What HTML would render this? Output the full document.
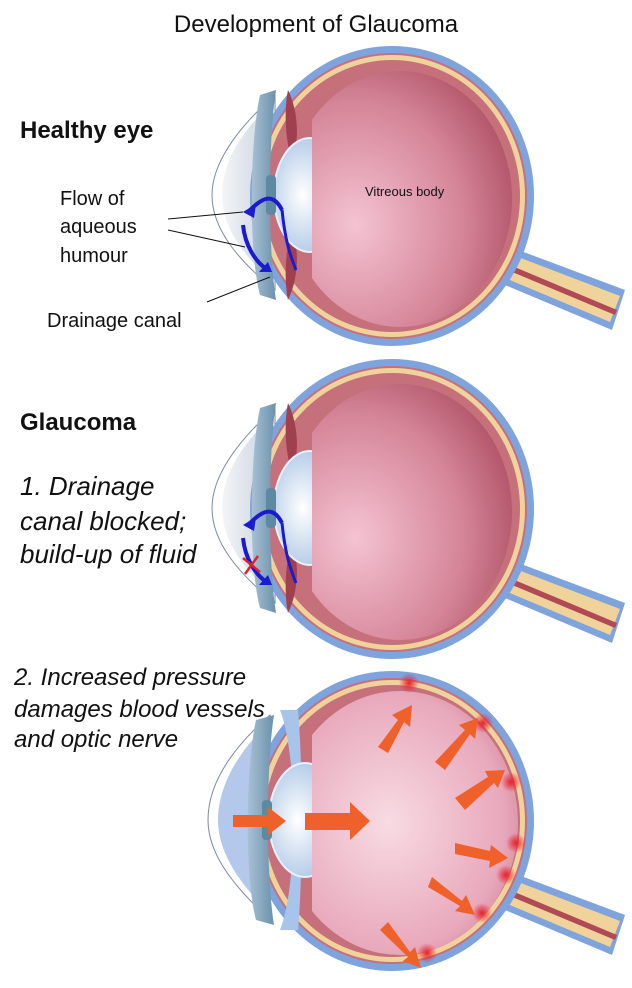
<!DOCTYPE html>
<html><head><meta charset="utf-8"><style>
html,body{margin:0;padding:0;background:#fff;}
svg{display:block;}
text{font-family:"Liberation Sans",sans-serif;fill:#111;}
</style></head><body>
<svg width="632" height="988" viewBox="0 0 632 988" xmlns="http://www.w3.org/2000/svg">
<defs>
<radialGradient id="vit" cx="0.3" cy="0.6" r="0.8">
<stop offset="0" stop-color="#f4c3d2"/><stop offset="0.6" stop-color="#d58598"/><stop offset="1" stop-color="#a9495e"/>
</radialGradient>
<radialGradient id="vit3" cx="0.45" cy="0.5" r="0.7">
<stop offset="0" stop-color="#f8dbe4"/><stop offset="0.7" stop-color="#e8a8bb"/><stop offset="1" stop-color="#c56f86"/>
</radialGradient>
<radialGradient id="lens" cx="0.4" cy="0.5" r="0.6">
<stop offset="0" stop-color="#ffffff"/><stop offset="1" stop-color="#a9c4e4"/>
</radialGradient>
<linearGradient id="cor" x1="0" x2="1">
<stop offset="0" stop-color="#f4f5f8"/><stop offset="1" stop-color="#c9d3e0"/>
</linearGradient>
<linearGradient id="iris" x1="0" x2="1">
<stop offset="0" stop-color="#a8c0d4"/><stop offset="1" stop-color="#6a92ac"/>
</linearGradient>
<radialGradient id="spot"><stop offset="0" stop-color="#e8202a"/><stop offset="1" stop-color="#e8202a" stop-opacity="0"/></radialGradient>
<clipPath id="vclip"><rect x="312" y="0" width="300" height="400" rx="40"/></clipPath>
<g id="globe">
  <path d="M505 245 L625 290 L612 330 L505 285 Z" fill="#7fa3dc"/>
  <path d="M505 252 L620 296 L610 322 L505 278 Z" fill="#f0d39a"/>
  <path d="M505 263 L617 310 L615 315 L505 269 Z" fill="#b04a55"/>
  <ellipse cx="392" cy="196" rx="142" ry="150" fill="#7fa3dc"/>
  <ellipse cx="392" cy="196" rx="135" ry="143" fill="#c6707c"/>
  <ellipse cx="392" cy="196" rx="133" ry="141" fill="#f0d39a"/>
  <ellipse cx="392" cy="196" rx="128" ry="136" fill="#c6707c"/>
</g>
<g id="eye">
  <path d="M275 95 C235 130 212 165 212 195 C212 230 240 262 275 290 Z" fill="#fff" stroke="#7a8aa0" stroke-width="1"/>
  <path d="M270 105 C238 135 222 165 222 195 C222 228 244 255 270 280 Z" fill="url(#cor)"/>
  <use href="#globe"/>
  <path d="M260 95 C250 140 248 250 260 295 L276 300 C268 250 268 140 276 90 Z" fill="url(#iris)"/>
  <path d="M288 90 C298 110 300 140 292 160 C285 140 284 110 288 90 Z M288 300 C298 280 300 250 292 230 C285 250 284 280 288 300 Z" fill="#a0404e"/>
  <ellipse cx="310" cy="195" rx="36" ry="57" fill="url(#lens)" stroke="#e8f0fa" stroke-width="2"/>
  <rect x="266" y="175" width="10" height="40" rx="4" fill="#5d8aa0"/>
  <ellipse cx="400" cy="199" rx="112" ry="128" fill="url(#vit)" clip-path="url(#vclip)"/>
</g>
</defs>

<text x="316" y="32" font-size="24" text-anchor="middle">Development of Glaucoma</text>

<use href="#eye"/>
<text x="365" y="196" font-size="13">Vitreous body</text>
<path d="M282 210 C272 190 260 200 248 212" stroke="#1a1ad0" stroke-width="4" fill="none"/>
<polygon points="243,212 256,204 254,218" fill="#1a1ad0"/>
<path d="M282 210 C285 240 290 255 296 270" stroke="#1a1ad0" stroke-width="3" fill="none"/>
<path d="M243 225 C245 245 255 262 268 270" stroke="#1a1ad0" stroke-width="4" fill="none"/>
<polygon points="272,272 259,272 268,262" fill="#1a1ad0"/>
<line x1="168" y1="219" x2="243" y2="212" stroke="#111" stroke-width="1"/>
<line x1="168" y1="230" x2="245" y2="247" stroke="#111" stroke-width="1"/>
<line x1="207" y1="302" x2="270" y2="277" stroke="#111" stroke-width="1"/>
<text x="20" y="138" font-size="24" font-weight="bold">Healthy eye</text>
<text x="60" y="205" font-size="20">Flow of</text>
<text x="60" y="233" font-size="20">aqueous</text>
<text x="60" y="262" font-size="20">humour</text>
<text x="47" y="327" font-size="20">Drainage canal</text>

<use href="#eye" transform="translate(0,313)"/>
<path d="M282 523 C272 503 260 513 248 525" stroke="#1a1ad0" stroke-width="4" fill="none"/>
<polygon points="243,525 256,517 254,531" fill="#1a1ad0"/>
<path d="M282 523 C285 553 290 568 296 583" stroke="#1a1ad0" stroke-width="3" fill="none"/>
<path d="M243 538 C245 558 255 575 268 583" stroke="#1a1ad0" stroke-width="4" fill="none"/>
<polygon points="272,585 259,585 268,575" fill="#1a1ad0"/>
<path d="M243 558 L260 572 M258 556 L245 574" stroke="#e0202a" stroke-width="2.5"/>
<text x="20" y="430" font-size="24" font-weight="bold">Glaucoma</text>
<text x="20" y="495" font-size="26" font-style="italic">1. Drainage</text>
<text x="20" y="530" font-size="26" font-style="italic">canal blocked;</text>
<text x="20" y="563" font-size="26" font-style="italic">build-up of fluid</text>

<g transform="translate(0,625)">
  <path d="M270 90 C230 125 208 160 208 195 C208 232 238 265 270 295 Z" fill="#fff" stroke="#7a8aa0"/>
  <path d="M266 100 C234 132 218 165 218 195 C218 228 240 258 266 285 Z" fill="#b3c8ea"/>
  <use href="#globe"/>
  <path d="M256 95 C246 140 244 250 256 295 L274 300 C266 250 266 140 274 90 Z" fill="url(#iris)"/>
  <path d="M280 85 C298 130 298 260 280 305 L298 305 C303 250 303 140 298 85 Z" fill="#a9c4ea"/>
  <ellipse cx="305" cy="195" rx="36" ry="57" fill="url(#lens)" stroke="#e8f0fa" stroke-width="2"/>
  <rect x="262" y="175" width="10" height="40" rx="4" fill="#5d8aa0"/>
  <ellipse cx="400" cy="198" rx="118" ry="132" fill="url(#vit3)" clip-path="url(#vclip)"/>
  <g fill="url(#spot)">
    <circle cx="409" cy="58" r="10"/><circle cx="483" cy="98" r="10"/><circle cx="511" cy="157" r="10"/>
    <circle cx="516" cy="218" r="10"/><circle cx="506" cy="250" r="10"/><circle cx="482" cy="288" r="10"/><circle cx="427" cy="328" r="10"/>
  </g>
  <g fill="#f0602a">
    <polygon points="233,190 268,190 268,182 286,196 268,210 268,202 233,202"/>
    <polygon points="305,188 350,188 350,177 370,196 350,215 350,205 305,205"/>
    <polygon points="378,122 398,95 392,90 412,80 410,102 404,97 388,128"/>
    <polygon points="435,137 465,105 459,100 478,93 475,114 470,109 445,145"/>
    <polygon points="455,173 488,152 485,146 505,145 498,163 494,158 465,185"/>
    <polygon points="455,218 490,226 491,220 508,233 489,243 490,236 455,229"/>
    <polygon points="432,252 462,276 466,270 475,290 455,286 460,281 428,262"/>
    <polygon points="388,297 410,327 415,322 421,343 403,336 408,332 380,305"/>
  </g>
</g>
<text x="14" y="685" font-size="24" font-style="italic">2. Increased pressure</text>
<text x="14" y="717" font-size="24" font-style="italic">damages blood vessels</text>
<text x="14" y="747" font-size="24" font-style="italic">and optic nerve</text>
</svg>
</body></html>
